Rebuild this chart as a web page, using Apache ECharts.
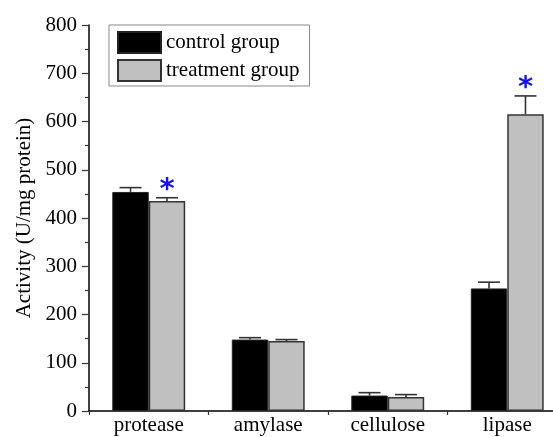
<!DOCTYPE html>
<html>
<head>
<meta charset="utf-8">
<script src="https://cdn.jsdelivr.net/npm/echarts@6/dist/echarts.min.js"></script>
<style>
html,body{margin:0;padding:0;background:#fff;overflow:hidden;width:553px;height:437px;}
#chart{width:567px;height:437px;}
</style>
</head>
<body>
<div id="chart"></div>
<script>
var categories = ['protease', 'amylase', 'cellulose', 'lipase'];
var seriesNames = ['control group', 'treatment group'];
var controlValues = [454, 148, 32, 254];
var controlErrors = [9, 4, 6, 13];
var treatmentValues = [435, 145, 29, 615];
var treatmentErrors = [7, 3, 5, 38];
var treatmentSignificant = [true, false, false, true];
var yTicks = [0, 100, 200, 300, 400, 500, 600, 700, 800];

var BAR_FRACTION = 0.305;
var FONT = '"Liberation Serif", "Times New Roman", serif';

function errData(values, errors, sig) {
  return values.map(function (v, i) {
    return [i, v, errors[i], sig ? (sig[i] ? 1 : 0) : 0];
  });
}

function makeErrRender(side) {
  return function (params, api) {
    var idx = api.value(0);
    var val = api.value(1);
    var err = api.value(2);
    var sig = api.value(3);
    var base = api.coord([idx, val]);
    var catW = api.size([1, 0])[0];
    var bw = catW * BAR_FRACTION;
    var x = base[0] + side * bw / 2;
    var yTop = api.coord([idx, val + err])[1];
    var yVal = base[1];
    var cap = 11;
    var children = [
      { type: 'line', shape: { x1: x, y1: yVal, x2: x, y2: yTop },
        style: { stroke: '#333', lineWidth: 1.6 } },
      { type: 'line', shape: { x1: x - cap, y1: yTop, x2: x + cap, y2: yTop },
        style: { stroke: '#333', lineWidth: 1.6 } }
    ];
    if (sig) {
      children.push({ type: 'text', x: x, y: yTop + 7,
        style: { text: '*', fill: '#1414e0', font: 'bold 29px "DejaVu Sans"',
                 align: 'center', verticalAlign: 'bottom' } });
    }
    return { type: 'group', children: children };
  };
}

var chart = echarts.init(document.getElementById('chart'));
chart.setOption({
  animation: false,
  backgroundColor: '#fff',
  grid: { left: 89, right: 0, top: 25, bottom: 26, containLabel: false, outerBoundsMode: 'none' },
  legend: {
    data: seriesNames,
    orient: 'vertical',
    left: 109, top: 25,
    padding: [6, 10, 4, 8],
    itemWidth: 43, itemHeight: 21, itemGap: 5,
    icon: 'rect',
    borderColor: '#888', borderWidth: 1,
    textStyle: { fontFamily: FONT, fontSize: 21, color: '#000' }
  },
  xAxis: {
    type: 'category',
    data: categories,
    axisLine: { lineStyle: { color: '#000', width: 1.5 } },
    axisTick: { show: true, length: 4, inside: false, lineStyle: { color: '#333', width: 1.2 } },
    axisLabel: { fontFamily: FONT, fontSize: 21, color: '#000', margin: 4 },
    splitLine: { show: false }
  },
  yAxis: {
    type: 'value',
    min: yTicks[0], max: yTicks[yTicks.length - 1], interval: 100,
    name: 'Activity (U/mg protein)',
    nameLocation: 'middle',
    nameGap: 50,
    nameTextStyle: { fontFamily: FONT, fontSize: 21, color: '#000' },
    axisLine: { show: true, lineStyle: { color: '#000', width: 1.5 } },
    axisTick: { show: true, length: 7, inside: false, lineStyle: { color: '#333', width: 1.2 } },
    minorTick: { show: true, splitNumber: 2, length: 4, lineStyle: { color: '#333', width: 1.2 } },
    axisLabel: { fontFamily: FONT, fontSize: 21, color: '#000', margin: 12 },
    splitLine: { show: false }
  },
  series: [
    {
      name: seriesNames[0], type: 'bar', data: controlValues,
      barWidth: (BAR_FRACTION * 100) + '%', barGap: '0%',
      itemStyle: { color: '#000', borderColor: '#222', borderWidth: 1 }
    },
    {
      name: seriesNames[1], type: 'bar', data: treatmentValues,
      barWidth: (BAR_FRACTION * 100) + '%', barGap: '0%',
      itemStyle: { color: '#c0c0c0', borderColor: '#333', borderWidth: 1.5 }
    },
    {
      type: 'custom', name: 'err-control', z: 5,
      renderItem: makeErrRender(-1),
      data: errData(controlValues, controlErrors, null),
      encode: { x: 0, y: 1 }
    },
    {
      type: 'custom', name: 'err-treatment', z: 5,
      renderItem: makeErrRender(1),
      data: errData(treatmentValues, treatmentErrors, treatmentSignificant),
      encode: { x: 0, y: 1 }
    }
  ]
});
</script>
</body>
</html>
